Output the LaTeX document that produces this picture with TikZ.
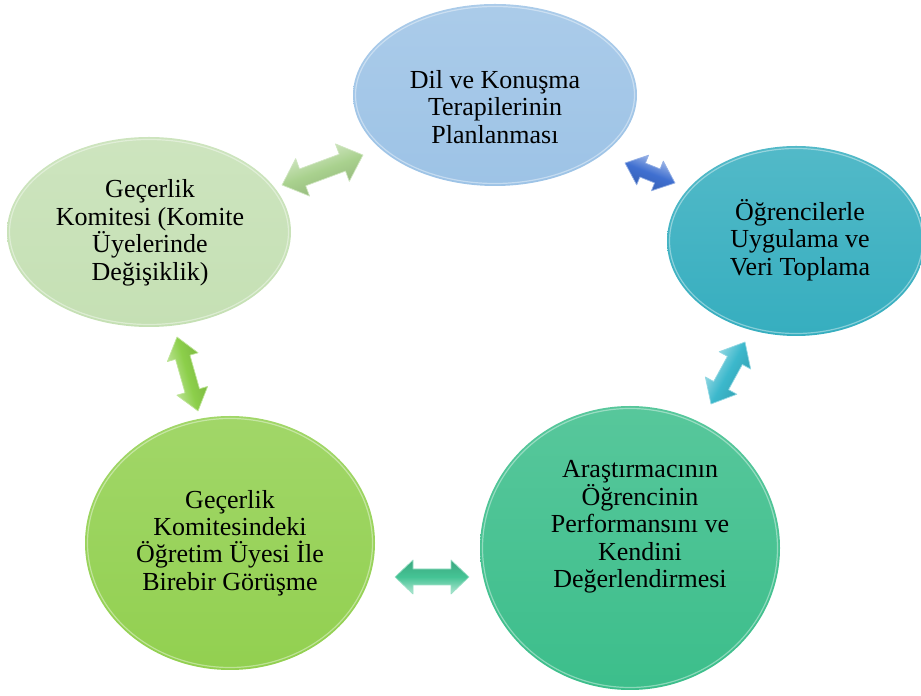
\documentclass[tikz,border=0pt]{standalone}
\usepackage{fontspec}
\setmainfont{Liberation Serif}
\usetikzlibrary{shapes.geometric,calc}

% stage fills
\definecolor{planC}{HTML}{9DC3E6}
\definecolor{veriC}{HTML}{36AEBF}
\definecolor{degerC}{HTML}{3CBE8B}
\definecolor{gorC}{HTML}{92D050}
\definecolor{komC}{HTML}{C5E0B4}
% two-way arrow fills
\definecolor{arKom}{HTML}{A9D18E}
\definecolor{arBlue}{HTML}{3F6FD0}
\definecolor{arTeal}{HTML}{3CB8CC}
\definecolor{arMint}{HTML}{45C495}
\definecolor{arGreen}{HTML}{8CCF4A}

\tikzset{
  lbl/.style={align=center, inner sep=0pt, text=black,
    font=\fontsize{26}{27.5}\selectfont},
}

% \stage{name}{x}{y}{width}{height}{colour}
\newcommand\stage[6]{%
  \node[ellipse, minimum width=#4, minimum height=#5, inner sep=0pt,
        top color=#6!86!white, bottom color=#6] (#1) at (#2,#3) {};
  \draw[white, opacity=.4, line width=1.2pt]
    (#1.center) ellipse [x radius=#4/2-2.5, y radius=#5/2-2.5];
}

% \twoway{from}{to}{colour}{head half-width}{shaft half-width}{head length}
\newcommand\twoway[6]{%
  \pgfmathanglebetweenpoints{\pgfpointanchor{#1}{center}}{\pgfpointanchor{#2}{center}}%
  \let\twAng\pgfmathresult
  \pgfpointdiff{\pgfpointanchor{#1}{center}}{\pgfpointanchor{#2}{center}}%
  \pgfgetlastxy{\twX}{\twY}%
  \pgfmathsetmacro\twLen{veclen(\twX,\twY)}%
  \begin{scope}[shift={(#1)}, rotate=\twAng]
    \path[top color=#3!40!white, bottom color=#3!85!black, middle color=#3,
          shading angle=\twAng, draw=#3!55!white, line width=.7pt, line join=round]
      (0,0) -- (#6,#4) -- (#6,#5) -- (\twLen-#6,#5) -- (\twLen-#6,#4) -- (\twLen,0)
      -- (\twLen-#6,-#4) -- (\twLen-#6,-#5) -- (#6,-#5) -- (#6,-#4) -- cycle;
  \end{scope}}

\begin{document}
\begin{tikzpicture}[x=1pt, y=1pt]
  \useasboundingbox (0,0) rectangle (921,696);

  % the five stages
  \stage{plan}{495}{601}{284}{182}{planC}
  \stage{veri}{796}{455}{258}{190}{veriC}
  \stage{deger}{630}{148}{300}{284}{degerC}
  \stage{gorusme}{230}{153}{290}{254}{gorC}
  \stage{komite}{149}{464}{284}{190}{komC}

  \node[lbl] (plan-t)    at (495,589) {Dil ve Konuşma\\Terapilerinin\\Planlanması};
  \node[lbl] (veri-t)    at (800,456) {Öğrencilerle\\Uygulama ve\\Veri Toplama};
  \node[lbl] (deger-t)   at (640,169) {Araştırmacının\\Öğrencinin\\Performansını ve\\Kendini\\Değerlendirmesi};
  \node[lbl] (gorusme-t) at (230,153) {Geçerlik\\Komitesindeki\\Öğretim Üyesi İle\\Birebir Görüşme};
  \node[lbl] (komite-t)  at (150,463) {Geçerlik\\Komitesi (Komite\\Üyelerinde\\Değişiklik)};

  % arrow ends in the gaps between neighbouring stages
  \coordinate (kp1) at (282,511);  \coordinate (kp2) at (363,541);
  \coordinate (pv1) at (625,533);  \coordinate (pv2) at (675,513);
  \coordinate (vd1) at (711,292);  \coordinate (vd2) at (745,354);
  \coordinate (dg1) at (469,119);  \coordinate (dg2) at (395,119);
  \coordinate (gk1) at (198,285);  \coordinate (gk2) at (177,359);

  \twoway{kp1}{kp2}{arKom}{20}{9}{22}
  \twoway{pv1}{pv2}{arBlue}{16}{7.5}{19}
  \twoway{vd1}{vd2}{arTeal}{18}{8.5}{21}
  \twoway{dg1}{dg2}{arMint}{17}{8}{18}
  \twoway{gk1}{gk2}{arGreen}{16}{7.5}{21}
\end{tikzpicture}
\end{document}
